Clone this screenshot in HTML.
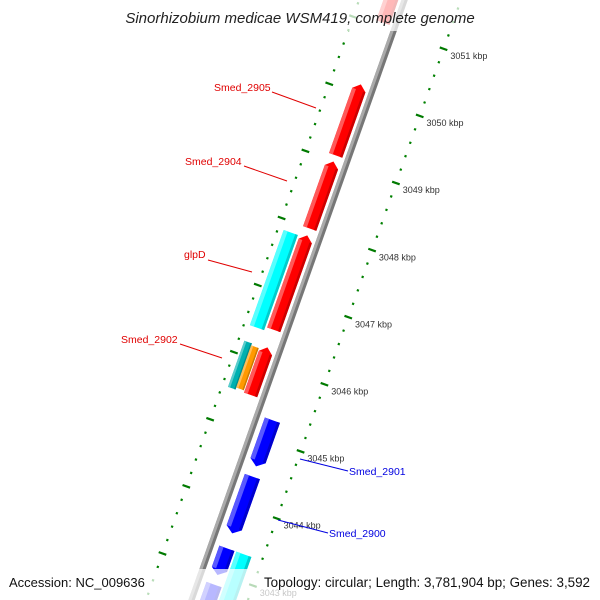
<!DOCTYPE html>
<html><head><meta charset="utf-8"><style>
html,body{margin:0;padding:0;background:#fff;overflow:hidden;width:600px;height:600px}
svg{display:block;font-family:"Liberation Sans",sans-serif;overflow:hidden}
</style></head><body>
<svg id="map" width="600" height="600" viewBox="0 0 600 600" xmlns="http://www.w3.org/2000/svg">
<defs><clipPath id="clip"><rect width="600" height="600"/></clipPath></defs>
<rect width="600" height="600" fill="#fff"/>
<g clip-path="url(#clip)">
<g id="rot" transform="translate(411,0) rotate(19.55)"></g>
<g id="overlay"></g>
</g>
<rect x="0" y="0" width="600" height="31" fill="#fff" opacity="0.72"/>
<text x="300" y="23" text-anchor="middle" font-size="15" font-style="italic" fill="#222">Sinorhizobium medicae WSM419, complete genome</text>
<rect x="0" y="569" width="600" height="31" fill="#fff" opacity="0.72"/>
<text x="9" y="587" font-size="13" fill="#111">Accession: NC_009636</text>
<text x="590" y="587" text-anchor="end" font-size="13.4" fill="#111">Topology: circular; Length: 3,781,904 bp; Genes: 3,592</text>
</svg>
<script>
// ---- data ----
const kbpTicks = [3043,3044,3045,3046,3047,3048,3049,3050,3051,3052];
const minorPerKbp = 5;
const geneNames = ["top-gene","Smed_2905","Smed_2904","red-gene","Smed_2902","glpD","teal-gene","orange-gene","blue-gene-1","blue-gene-2","blue-gene-3","blue-gene-4","cyan-gene-2"];
const geneStart = [3051.04,3049.06,3047.97,3046.46,3045.49,3046.41,3045.49,3045.52,3044.57,3043.57,3042.95,3041.66,3041.66];
const geneEnd   = [3052.33,3050.16,3049.01,3047.91,3046.24,3047.87,3046.22,3046.19,3045.30,3044.46,3043.39,3042.85,3043.39];
const geneStrand= [1,1,1,1,1,0,0,0,-1,-1,-1,-1,0];
const geneLane  = ["fwd","fwd","fwd","fwd","fwd","cyan","teal","orange","rev","rev","rev","rev","rev2"];
const geneColor = ["#ff0000","#ff0000","#ff0000","#ff0000","#ff0000","#00ffff","#00b0b0","#ff9900","#0000ff","#0000ff","#0000ff","#0000ff","#00ffff"];
const geneLabels = [
 {t:"Smed_2905",x:214,y:91,c:"#e00000",a:"start",lx1:272,ly1:92,lx2:316,ly2:108},
 {t:"Smed_2904",x:185,y:165,c:"#e00000",a:"start",lx1:244,ly1:166,lx2:287,ly2:181},
 {t:"glpD",x:184,y:258,c:"#e00000",a:"start",lx1:208,ly1:260,lx2:252,ly2:272},
 {t:"Smed_2902",x:121,y:343,c:"#e00000",a:"start",lx1:180,ly1:344,lx2:222,ly2:358},
 {t:"Smed_2901",x:349,y:475,c:"#0000e0",a:"start",lx1:300,ly1:459,lx2:348,ly2:471},
 {t:"Smed_2900",x:329,y:537,c:"#0000e0",a:"start",lx1:278,ly1:520,lx2:328,ly2:533}
];
// ---- scales ----
const KBP0 = 3051, LY0 = 35, PX_PER_KBP = 71.2;
function yOf(kbp){ return LY0 + (KBP0 - kbp) * PX_PER_KBP; }
const lanes = {fwd:[-26,-12], cyan:[-43,-28], teal:[-43,-35], orange:[-35,-27], rev:[2,18], rev2:[20,36]};
const RING_R = 47, RING_L = -49;
const ANG = 19.55*Math.PI/180, CA=Math.cos(ANG), SA=Math.sin(ANG);
function toImg(lx,ly){ return [411 + lx*CA - ly*SA, lx*SA + ly*CA]; }
const NS="http://www.w3.org/2000/svg";
const rot=document.getElementById('rot'), ov=document.getElementById('overlay');
function mk(tag,attrs,parent){const e=document.createElementNS(NS,tag);for(const k in attrs)e.setAttribute(k,attrs[k]);parent.appendChild(e);return e;}
// backbone
let bb=mk('rect',{x:-9,y:-200,width:6,height:1100,fill:'#777'},rot);


let bb2=mk('rect',{x:-9,y:-200,width:3,height:1100,fill:'#aaa'},rot);


// ticks
for(let k=3041;k<=3053;k++){
 for(let m=0;m<minorPerKbp;m++){
  const kv=k+m/minorPerKbp, y=yOf(kv);
  [RING_R,RING_L].forEach(rx=>{
   let e;
   if(m===0) e=mk('rect',{x:rx-4,y:y-1,width:8,height:2.2,fill:'#007a00'},rot);
   else e=mk('rect',{x:rx-1,y:y-1,width:2.2,height:2.2,fill:'#008000'},rot);
   
   
  });
 }
}
kbpTicks.forEach(k=>{
 const p=toImg(RING_R+4,yOf(k));
 const t=mk('text',{x:p[0]+3,y:p[1]+9,'font-size':9,fill:'#333'},ov);
 t.textContent=k+" kbp";
 
 
});
// genes
function shade(c,f){const n=parseInt(c.slice(1),16);let r=n>>16,g=(n>>8)&255,b=n&255;
 if(f>0){r=r+(255-r)*f;g=g+(255-g)*f;b=b+(255-b)*f;}else{r*=1+f;g*=1+f;b*=1+f;}
 return 'rgb('+Math.round(r)+','+Math.round(g)+','+Math.round(b)+')';}
geneNames.forEach((nm,i)=>{
 const ln=lanes[geneLane[i]], x0=ln[0], x1=ln[1], xm=(x0+x1)/2;
 const yTop=yOf(geneEnd[i])+1.5, yBot=yOf(geneStart[i])-1.5, s=geneStrand[i], h=6;
 let pts;
 if(s===1) pts=[[xm,yTop],[x1,yTop+h],[x1,yBot],[x0,yBot],[x0,yTop+h]];
 else if(s===-1) pts=[[x0,yTop],[x1,yTop],[x1,yBot-h],[xm,yBot],[x0,yBot-h]];
 else pts=[[x0,yTop],[x1,yTop],[x1,yBot],[x0,yBot]];
 const g=mk('g',{},rot);
 
 
 mk('polygon',{points:pts.map(p=>p.join(',')).join(' '),fill:geneColor[i]},g);
 const w=x1-x0;
 mk('rect',{x:x0,y:yTop+(s===1?h:0),width:w*0.28,height:Math.max(0,yBot-yTop-(s!==0?h:0)),fill:shade(geneColor[i],0.35)},g);
 mk('rect',{x:x1-w*0.18,y:yTop+(s===1?h:0),width:w*0.18,height:Math.max(0,yBot-yTop-(s!==0?h:0)),fill:shade(geneColor[i],-0.2)},g);
});
// labels
geneLabels.forEach(L=>{
 const l=mk('line',{x1:L.lx1,y1:L.ly1,x2:L.lx2,y2:L.ly2,stroke:L.c,'stroke-width':1},ov);
 
 
 const t=mk('text',{x:L.x,y:L.y,'font-size':10.5,fill:L.c,'text-anchor':L.a},ov);
 t.textContent=L.t;
 
 
});
</script>
</body></html>
